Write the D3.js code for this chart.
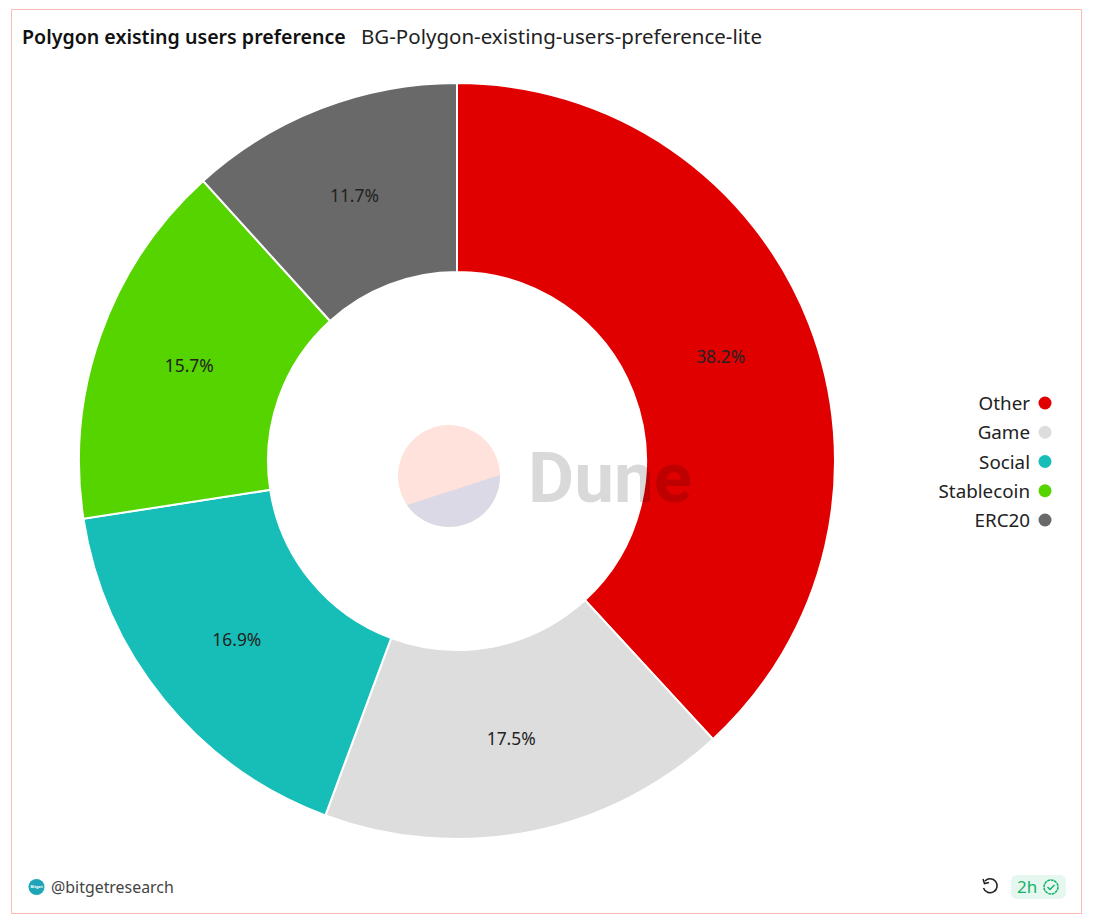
<!DOCTYPE html>
<html><head><meta charset="utf-8">
<script src="https://cdnjs.cloudflare.com/ajax/libs/d3/7.8.5/d3.min.js"></script>
<style>html,body{margin:0;padding:0;background:#fff}svg{display:block}text{font-family:"Noto Sans",sans-serif}</style>
</head><body><svg id="c" width="1094" height="920"></svg>
<script>
const categories=["Other","Game","Social","Stablecoin","ERC20"];
const values=[38.16,17.5,16.9,15.72,11.72];
const colors=["#e10000","#dddddd","#17beb8","#55d400","#696969"];
const title="Polygon existing users preference";
const subtitle="BG-Polygon-existing-users-preference-lite";
const svg=d3.select("#c");
svg.append("rect").attr("x",11.5).attr("y",9.5).attr("width",1070).attr("height",904).attr("fill","#fff").attr("stroke","#fdbcb4");
svg.append("text").attr("x",22).attr("y",43.5).attr("font-size",19.6).attr("font-weight",600).attr("fill","#111").text(title);
svg.append("text").attr("x",361).attr("y",43.5).attr("font-size",20.5).attr("fill","#222").text(subtitle);
const cx=457,cy=461,R=378,r=189;
const pie=d3.pie().sort(null).value(d=>d)(values);
const arc=d3.arc().innerRadius(r).outerRadius(R);
const g=svg.append("g").attr("transform",`translate(${cx},${cy})`);
g.selectAll("path").data(pie).join("path").attr("d",arc).attr("fill",(d,i)=>colors[i]).attr("stroke","#fff").attr("stroke-width",2);
g.selectAll("text").data(pie).join("text").attr("transform",d=>{const c=arc.centroid(d);return `translate(${c[0]-0.5},${c[1]+5.5})`})
 .attr("text-anchor","middle").attr("font-size",17.4).attr("fill","#222").text(d=>d.value.toFixed(1)+"%");
// watermark
const wm=svg.append("g");
wm.append("circle").attr("cx",449).attr("cy",476).attr("r",51).attr("fill","#ffe2db");
wm.append("path").attr("d","M407 505 A51 51 0 0 0 500 475 Z").attr("fill","#dbd9e6");
wm.append("text").attr("x",528).attr("y",502).attr("font-size",71).attr("font-weight",700).attr("fill","#000").attr("fill-opacity",0.15).style("font-family","Roboto").text("Dune");
// legend
const ly=d3.scalePoint().domain(categories).range([403,520]);
const lg=svg.append("g").selectAll("g").data(categories).join("g").attr("transform",d=>`translate(0,${ly(d)})`);
lg.append("text").attr("x",1030).attr("y",7).attr("text-anchor","end").attr("font-size",18.8).attr("fill","#222").text(d=>d);
lg.append("circle").attr("cx",1045).attr("cy",0).attr("r",6.5).attr("fill",(d,i)=>colors[i]);
// footer
svg.append("circle").attr("cx",36.5).attr("cy",887).attr("r",8).attr("fill","#1fa5b8");
svg.append("text").attr("x",36.5).attr("y",888).attr("text-anchor","middle").attr("font-size",4).attr("font-weight",700).attr("fill","#fff").text("Bitget");
svg.append("text").attr("x",51).attr("y",893).attr("font-size",15.9).attr("fill","#444").text("@bitgetresearch");
svg.append("path").attr("d","M985 881 A7 7 0 1 1 983.5 888 M983 879 L984.5 883.5 L989 882.5").attr("fill","none").attr("stroke","#222").attr("stroke-width",1.5);
svg.append("rect").attr("x",1011).attr("y",875).attr("width",55).attr("height",24).attr("rx",6).attr("fill","#e6f7ef");
svg.append("text").attr("x",1017).attr("y",893).attr("font-size",17).attr("fill","#13b26b").text("2h");
svg.append("circle").attr("cx",1051).attr("cy",887).attr("r",7).attr("fill","none").attr("stroke","#13b26b").attr("stroke-width",1.5).attr("stroke-dasharray","3 .6");
svg.append("path").attr("d","M1047.5 887 L1050 889.5 L1054.5 885").attr("fill","none").attr("stroke","#13b26b").attr("stroke-width",1.5);
</script></body></html>
